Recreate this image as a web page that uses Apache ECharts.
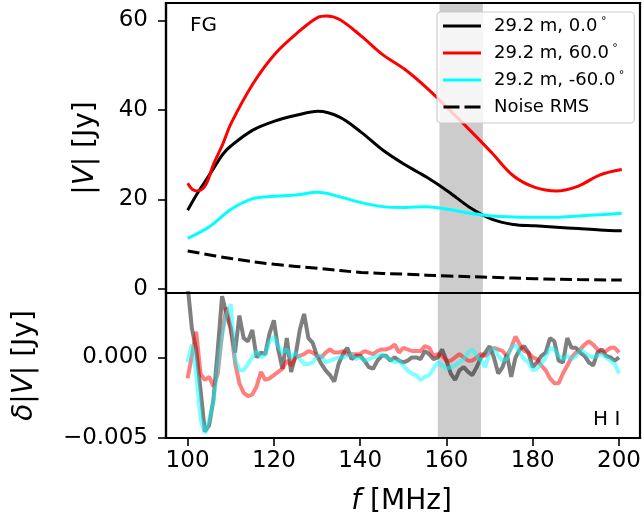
<!DOCTYPE html>
<html>
<head>
<meta charset="utf-8">
<script src="https://cdn.jsdelivr.net/npm/echarts@6/dist/echarts.min.js"></script>
<style>html,body{margin:0;padding:0;background:#fff;}#c{width:644px;height:520px;}</style>
</head>
<body>
<div id="c"></div>
<script>
// ---- Top panel: foreground |V| [Jy] ----
const freqBlack = [100,102,104,106,108,110,115,120,125,130,135,140,145,150,155,160,165,170,175,180,185,190,195,200];
const fgBlack   = [17.6,21.0,24.0,27.0,30.0,32.0,35.5,37.5,38.8,39.7,38.4,35.0,31.0,27.8,25.0,21.8,18.2,15.6,14.4,14.1,13.8,13.5,13.2,13.0];
const freqRed   = [100,101,102,104,106,108,110,115,120,125,130,132,135,140,145,150,155,160,165,170,175,180,185,190,195,200];
const fgRed     = [23.6,22.3,21.9,23.0,28.0,32.2,37.0,45.8,52.4,57.0,60.7,61.0,60.2,56.5,52.3,49.1,45.0,40.3,35.5,30.5,25.3,22.7,21.9,23.0,25.5,26.7];
const freqCyan  = [100,105,110,115,120,125,130,135,140,145,150,155,160,165,170,175,180,185,190,195,200];
const fgCyan    = [11.3,13.9,17.8,20.2,20.7,21.0,21.6,20.6,19.3,18.4,18.2,18.4,17.8,16.9,16.3,16.1,16.0,16.0,16.3,16.6,16.9];
const freqNoise = [100,110,120,130,140,150,160,170,180,190,200];
const noiseRMS  = [8.5,6.8,5.5,4.6,3.7,3.3,2.9,2.6,2.3,2.1,2.0];

// ---- Bottom panel: residual delta|V| in mJy (tick labels shown in Jy) ----
const freqResid = [100,101,102,103,104,105,106,107,108,109,110,111,112,113,114,115,116,117,118,119,120,
  121,122,123,124,125,126,127,128,129,130,131,132,133,134,135,136,137,138,139,140,
  141,142,143,144,145,146,147,148,149,150,151,152,153,154,155,156,157,158,159,160,
  161,162,163,164,165,166,167,168,169,170,171,172,173,174,175,176,177,178,179,180,
  181,182,183,184,185,186,187,188,189,190,191,192,193,194,195,196,197,198,199,200];
const residBlack = [4.5,1.8,0.5,-2.0,-4.6,-4.2,-2.6,0.5,3.8,2.7,1.8,0.3,2.6,1.2,1.0,1.7,0.0,0.3,0.2,1.5,2.3,
  0.5,-0.7,1.2,-0.9,0.1,1.7,2.7,1.2,0.9,0.1,-0.4,-0.8,-1.1,-1.5,-0.4,0.2,0.6,-0.1,0.1,0.1,
  -0.2,-0.6,-0.7,-0.2,0.1,0.1,-0.2,0.0,-0.2,-0.3,-0.2,0.0,0.0,-0.1,0.4,0.2,-0.1,0.0,0.5,-0.2,
  -1.0,-1.4,-0.8,-0.6,-0.9,-1.1,-0.6,0.0,0.3,0.7,0.0,-1.0,-0.6,0.2,-1.2,0.0,0.5,0.7,0.3,-0.6,
  -0.3,0.1,0.3,1.2,1.0,-0.2,-0.3,1.2,0.6,0.6,0.3,0.1,-0.3,-0.5,0.3,0.5,0.1,0.0,-0.2,0.0];
const residRed = [-1.3,0.1,1.6,-1.0,-1.4,-1.2,-1.8,-1.0,1.5,3.1,1.8,-0.3,-1.6,-2.2,-2.4,-2.3,-1.8,-0.9,-1.4,-1.3,-1.1,
  -0.9,-0.7,-0.2,-0.5,0.0,0.1,0.2,0.4,0.3,0.1,0.0,0.3,0.5,0.3,0.3,0.4,0.2,0.2,0.2,0.2,
  0.4,0.3,0.2,0.4,0.5,0.5,0.6,0.8,0.3,0.6,0.5,0.4,0.4,0.4,0.7,0.6,0.1,0.2,0.1,-0.2,
  -0.2,0.0,0.2,0.0,-0.2,-0.2,0.0,0.2,0.1,0.3,0.6,0.5,0.4,0.1,0.6,1.3,0.8,0.4,0.3,0.0,
  -0.1,-0.5,-0.8,-1.3,-1.6,-1.6,-1.0,-0.5,0.0,0.3,0.5,0.8,1.0,0.8,0.5,0.3,0.4,0.6,0.6,0.3];
const residCyan = [-0.3,0.8,-1.0,-3.8,-4.7,-3.9,-2.7,-0.6,1.4,2.7,3.3,-0.1,-0.8,-0.8,-0.4,0.0,0.4,0.0,0.2,1.0,1.3,
  0.7,0.3,0.5,0.0,0.3,-0.1,-0.4,-0.4,-0.3,0.1,0.1,-0.3,-0.2,-0.1,0.0,0.0,0.1,0.2,-0.1,0.0,
  -0.2,-0.1,0.0,0.1,0.2,0.0,-0.1,-0.3,-0.2,-0.5,-0.8,-1.0,-1.1,-1.4,-1.2,-1.1,-0.7,-0.3,-0.5,-0.7,
  -0.6,-0.5,-0.3,-0.1,0.3,0.5,0.1,-0.2,-0.6,0.4,0.6,0.1,-0.2,-0.1,0.6,0.8,0.3,-0.1,-0.3,-0.8,
  -0.7,-0.4,0.0,0.6,0.5,0.1,-0.1,0.1,-0.1,0.1,0.5,0.3,0.1,0.0,0.1,0.2,0.0,-0.2,-0.4,-1.0];

// ---- Ticks, band, labels ----
const xTicks = [100,120,140,160,180,200];
const yTopTicks = [0,20,40,60];
const yBotTicks = [-5,0];          // mJy -> shown as -0.005, 0.000 Jy
const band = [158,168];
const seriesNames = ['29.2 m, 0.0°','29.2 m, 60.0°','29.2 m, -60.0°','Noise RMS'];

const pairs = (xs, ys) => xs.map((x,i)=>[x, ys[i]]);
const FONT = 'DejaVu Sans';
const G_LEFT = 166, G_W = 474, G0_TOP = 3, G0_H = 290, G1_TOP = 293, G1_H = 145;
const G_RIGHT = G_LEFT + G_W, G1_BOTTOM = G1_TOP + G1_H;
const SPINE_W = 2.2;
const tickLine = {show:true, length:8, inside:false, lineStyle:{color:'#000', width:1.6}};
const X_MIN = 95, X_MAX = 204.2;
const TOP_MIN = -0.9, TOP_MAX = 63.9, BOT_MIN = -5, BOT_MAX = 4.0;

const chart = echarts.init(document.getElementById('c'), null, {renderer:'canvas'});
const labelStyle = {color:'#000', fontFamily:FONT, fontSize:23};
const nameStyle = {color:'#000', fontFamily:FONT, fontSize:28, rich:{i:{fontStyle:'italic', fontFamily:FONT, fontSize:28}}};
const lineIcon = 'path://M0,0H38V3H0Z';
const dashIcon = 'path://M0,0H16V3H0Z M21,0H37V3H21Z';
const spine = {show:true, onZero:false, lineStyle:{color:'#000', width:SPINE_W}};
const frameLine = (x1,y1,x2,y2) => ({type:'line', zlevel:2, z:10, silent:true,
  shape:{x1:x1, y1:y1, x2:x2, y2:y2}, style:{stroke:'#000000', lineWidth:SPINE_W, lineCap:'square'}});

chart.setOption({
  animation:false,
  backgroundColor:'#fff',
  textStyle:{fontFamily:FONT},
  grid:[
    {left:G_LEFT, top:G0_TOP, width:G_W, height:G0_H, show:false},
    {left:G_LEFT, top:G1_TOP, width:G_W, height:G1_H, show:false}
  ],
  xAxis:[
    {type:'value', min:X_MIN, max:X_MAX, gridIndex:0, position:'bottom', axisLine:spine,
      axisTick:{show:false}, axisLabel:{show:false}, splitLine:{show:false}},
    {type:'value', min:X_MIN, max:X_MAX, gridIndex:1, position:'bottom', splitLine:{show:false}, axisLine:spine,
      axisTick:Object.assign({customValues:xTicks}, tickLine),
      axisLabel:Object.assign({customValues:xTicks, margin:12}, labelStyle),
      name:'{i|f} [MHz]', nameLocation:'middle', nameGap:50, nameTextStyle:nameStyle}
  ],
  yAxis:[
    {type:'value', gridIndex:0, min:TOP_MIN, max:TOP_MAX, position:'left', splitLine:{show:false}, axisLine:spine,
      axisTick:Object.assign({customValues:yTopTicks}, tickLine),
      axisLabel:Object.assign({customValues:yTopTicks, margin:18}, labelStyle),
      name:'|{i|V}| [Jy]', nameLocation:'middle', nameGap:66, nameRotate:90, nameTextStyle:nameStyle},
    {type:'value', gridIndex:1, min:BOT_MIN, max:BOT_MAX, position:'left', splitLine:{show:false}, axisLine:spine,
      axisTick:Object.assign({customValues:yBotTicks}, tickLine),
      axisLabel:Object.assign({customValues:yBotTicks, margin:18,
        formatter:v => (v<0?'\u2212':'') + Math.abs(v/1000).toFixed(3)}, labelStyle),
      name:'{i|δ}|{i|V}| [Jy]', nameLocation:'middle', nameGap:127, nameRotate:90, nameTextStyle:nameStyle}
  ],
  legend:{
    data:[
      {name:seriesNames[0], icon:lineIcon},
      {name:seriesNames[1], icon:lineIcon},
      {name:seriesNames[2], icon:lineIcon},
      {name:seriesNames[3], icon:dashIcon}
    ],
    orient:'vertical', left:437, top:12,
    padding:[4,10,6,6], itemGap:7, itemWidth:38, itemHeight:3,
    backgroundColor:'rgba(255,255,255,0.8)', borderColor:'#cccccc', borderWidth:1.2, borderRadius:4,
    formatter: n => n.replace('°','{deg| °}'),
    textStyle:{color:'#000', fontFamily:FONT, fontSize:18, lineHeight:20, padding:[0,0,0,8],
      rich:{deg:{fontSize:11, fontFamily:FONT, verticalAlign:'top', lineHeight:12, color:'#000'}}}
  },
  graphic:[
    {type:'text', left:190, top:16, style:{text:'FG', fontFamily:FONT, fontSize:20, fill:'#000'}},
    {type:'text', left:593, top:410, style:{text:'H I', fontFamily:FONT, fontSize:20, fill:'#000'}},
    frameLine(G_LEFT, G0_TOP, G_RIGHT, G0_TOP),
    frameLine(G_LEFT, G0_TOP, G_LEFT, G1_BOTTOM),
    frameLine(G_RIGHT, G0_TOP, G_RIGHT, G1_BOTTOM),
    frameLine(G_LEFT, G1_TOP, G_RIGHT, G1_TOP),
    frameLine(G_LEFT, G1_BOTTOM, G_RIGHT, G1_BOTTOM)
  ],
  series:[
    {type:'line', xAxisIndex:0, yAxisIndex:0, data:[], silent:true, z:1,
      markArea:{silent:true, itemStyle:{color:'#cccccc', opacity:1}, data:[[{xAxis:band[0]},{xAxis:band[1]}]]}},
    {type:'line', xAxisIndex:1, yAxisIndex:1, data:[], silent:true, z:1,
      markArea:{silent:true, itemStyle:{color:'#cccccc', opacity:1}, data:[[{xAxis:band[0]},{xAxis:band[1]}]]}},
    {name:seriesNames[0], type:'line', xAxisIndex:0, yAxisIndex:0, data:pairs(freqBlack,fgBlack), smooth:0.35, symbol:'none', z:3,
      lineStyle:{color:'#000000', width:3}, itemStyle:{color:'#000000'}},
    {name:seriesNames[1], type:'line', xAxisIndex:0, yAxisIndex:0, data:pairs(freqRed,fgRed), smooth:0.35, symbol:'none', z:3,
      lineStyle:{color:'#ff0000', width:3}, itemStyle:{color:'#ff0000'}},
    {name:seriesNames[2], type:'line', xAxisIndex:0, yAxisIndex:0, data:pairs(freqCyan,fgCyan), smooth:0.35, symbol:'none', z:3,
      lineStyle:{color:'#00ffff', width:3}, itemStyle:{color:'#00ffff'}},
    {name:seriesNames[3], type:'line', xAxisIndex:0, yAxisIndex:0, data:pairs(freqNoise,noiseRMS), smooth:0.35, symbol:'none', z:3,
      lineStyle:{color:'#000000', width:3, type:[12,5]}, itemStyle:{color:'#000000'}},
    {name:'resid0', type:'line', xAxisIndex:1, yAxisIndex:1, data:pairs(freqResid,residBlack), symbol:'none', z:3, clip:true,
      lineStyle:{color:'#000000', width:4, opacity:0.5}},
    {name:'resid60', type:'line', xAxisIndex:1, yAxisIndex:1, data:pairs(freqResid,residRed), symbol:'none', z:3, clip:true,
      lineStyle:{color:'#ff0000', width:4, opacity:0.5}},
    {name:'residm60', type:'line', xAxisIndex:1, yAxisIndex:1, data:pairs(freqResid,residCyan), symbol:'none', z:3, clip:true,
      lineStyle:{color:'#00ffff', width:4, opacity:0.5}}
  ]
});
</script>
</body>
</html>
